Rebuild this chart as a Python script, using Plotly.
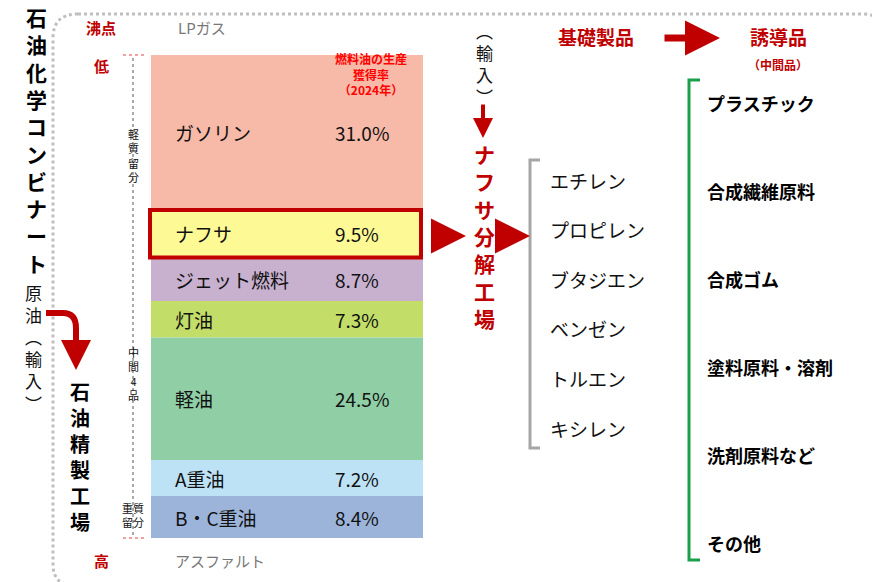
import plotly.graph_objects as go

fuels = ["ガソリン", "ナフサ", "ジェット燃料", "灯油", "軽油", "A重油", "B・C重油"]
shares = [31.0, 9.5, 8.7, 7.3, 24.5, 7.2, 8.4]
colors = ["#f7b9a8", "#fdfa95", "#c8b0cf", "#c2de68", "#90cfa6", "#bde2f6", "#9cb4da"]
basics = ["エチレン", "プロピレン", "ブタジエン", "ベンゼン", "トルエン", "キシレン"]
derived = ["プラスチック", "合成繊維原料", "合成ゴム", "塗料原料・溶剤", "洗剤原料など", "その他"]

W, H = 880, 582
FONT = "Noto Sans CJK JP"
RED = "#c00000"

def P(py):
    return 1 - py / H

def Y(py):
    # pixel row -> data y of the column axis
    return (py - 47) / 5

def vert(s):
    return "<br>".join(s)

# stacked column, 1% = 5px, top of stack at pixel 47
y0 = -47 / 5
y1 = (H - 47) / 5

fig = go.Figure()
base = 0
for name, v, c in zip(fuels, shares, colors):
    fig.add_trace(go.Bar(x=[279], y=[v], base=[base], width=[272], marker_color=c,
                         marker_line_width=0, showlegend=False, hoverinfo="skip"))
    mid = base + v / 2
    fig.add_annotation(x=165, y=mid, yref="y", text=name, showarrow=False, xanchor="left",
                       font=dict(size=19, color="#111"))
    fig.add_annotation(x=325, y=mid, yref="y", text=f"{v:.1f}%", showarrow=False, xanchor="left",
                       font=dict(size=19, color="#111"))
    if name == "ナフサ":
        fig.add_shape(type="rect", x0=142, x1=413, y0=base, y1=base + v, yref="y",
                      line=dict(color=RED, width=4))
    base += v

shapes = list(fig.layout.shapes)
# dotted outer border
shapes.append(dict(type="path", xref="x", yref="paper",
                   path=f"M 70,{P(6)} L 855,{P(6)} Q 875,{P(6)} 875,{P(26)} L 875,{P(556)} Q 875,{P(577)} 855,{P(577)} "
                        f"L 65,{P(577)} Q 45,{P(577)} 45,{P(556)} L 45,{P(30)} Q 45,{P(6)} 70,{P(6)}",
                   line=dict(color="#bfbfbf", width=3, dash="dot")))
# boiling axis dotted line
shapes.append(dict(type="line", xref="x", yref="paper", x0=125, x1=125, y0=P(50), y1=P(528),
                   line=dict(color="#aaa", width=2, dash="dot")))
for py in (47, 530):
    shapes.append(dict(type="line", xref="x", yref="paper", x0=115, x1=138, y0=P(py), y1=P(py),
                       line=dict(color="#f4a0a0", width=2, dash="dot")))
# gray bracket
shapes.append(dict(type="path", xref="x", yref="paper",
                   path=f"M 532,{P(152)} L 522,{P(152)} L 522,{P(440)} L 532,{P(440)}",
                   line=dict(color="#a6a6a6", width=3)))
# green bracket
shapes.append(dict(type="path", xref="x", yref="paper",
                   path=f"M 692,{P(72)} L 681,{P(72)} L 681,{P(552)} L 692,{P(552)}",
                   line=dict(color="#1aa04a", width=3)))
# curved crude oil arrow
shapes.append(dict(type="path", xref="x", yref="paper",
                   path=f"M 38,{P(305)} L 55,{P(305)} Q 68,{P(305)} 68,{P(320)} L 68,{P(345)}",
                   line=dict(color=RED, width=6)))
fig.update_layout(shapes=shapes)

def arrow(x0, py0, x1, py1, w=6):
    fig.add_annotation(x=x1, y=Y(py1), ax=x0, ay=Y(py0), xref="x", yref="y", axref="x", ayref="y",
                       text="", showarrow=True, arrowhead=2, arrowsize=1, arrowwidth=w, arrowcolor=RED)

arrow(425, 228, 458, 228, 7)
arrow(488, 228, 522, 228, 7)
arrow(475, 95, 475, 130, 4)
arrow(655, 30, 712, 30, 7)
arrow(68, 340, 68, 362, 6)

def txt(x, py, s, size=16, color="#111", bold=False, anchor="center"):
    if bold:
        s = f"<b>{s}</b>"
    fig.add_annotation(x=x, y=P(py), xref="x", yref="paper", text=s, showarrow=False,
                       xanchor=anchor, yanchor="middle", font=dict(size=size, color=color, family=FONT),
                       align="center")

txt(28, 132, vert("石油化学コンビナート"), 21, "#000", True)
txt(93, 20, "沸点", 15, RED, True)
txt(93, 58, "低", 15, RED, True)
txt(93, 552, "高", 15, RED, True)
txt(168, 20, "LPガス", 15, "#777", anchor="left")
txt(165, 552, "アスファルト", 15, "#777", anchor="left")
txt(125, 147, vert("軽質留分"), 11, "#111")
txt(125, 365, vert("中間4品"), 11, "#111")
txt(125, 507, "重質<br>留分", 11, "#111")
txt(363, 66, "燃料油の生産<br>獲得率<br>（2024年）", 12, "#ff0000", True)
txt(25, 340, "原<br>油<br>︵<br>輸<br>入<br>︶", 17, "#111")
txt(72, 448, vert("石油精製工場"), 20, "#000", True)
txt(476, 55, "︵<br>輸<br>入<br>︶", 17, "#111")
txt(476, 228, vert("ナフサ分解工場"), 21, RED, True)
txt(588, 28, "基礎製品", 19, RED, True)
txt(770, 28, "誘導品", 19, RED, True)
txt(770, 57, "（中間品）", 12, RED, True)
for i, s in enumerate(basics):
    txt(540, 172 + i * 49.6, s, 19, "#111", anchor="left")
for i, s in enumerate(derived):
    txt(697, 95 + i * 88, s, 18, "#000", True, anchor="left")

fig.update_layout(
    width=W, height=H, margin=dict(l=0, r=0, t=0, b=0),
    paper_bgcolor="white", plot_bgcolor="white", barmode="overlay",
    font=dict(family=FONT),
    xaxis=dict(range=[0, W], visible=False, fixedrange=True),
    yaxis=dict(range=[y1, y0], visible=False, fixedrange=True),
)
fig.write_html("out.html")
